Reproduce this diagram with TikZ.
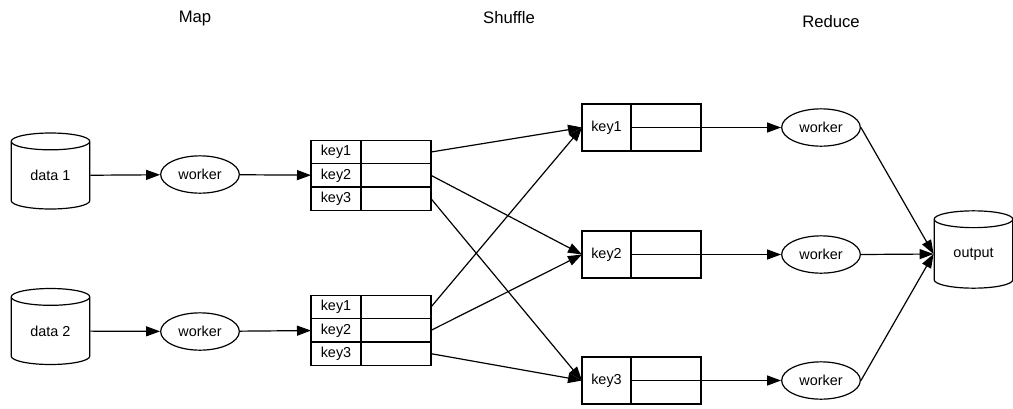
\documentclass[tikz,border=0pt]{standalone}
\usepackage{fontspec}
\setmainfont{Liberation Sans}
\usepackage{tikz}
\usetikzlibrary{arrows.meta, positioning, shapes.geometric}

\begin{document}
\begin{tikzpicture}[
		x=0.75pt, y=-0.75pt,
		font=\fontsize{10.8}{12}\selectfont,
		store/.style={cylinder, draw, shape border rotate=90, aspect=0.42, minimum width=59pt, minimum height=57pt, inner sep=0pt, line width=0.9pt},
		worker/.style={ellipse, draw, minimum width=59pt, minimum height=28pt, inner sep=0pt, line width=0.9pt},
		keycell/.style={draw, minimum width=37.5pt, minimum height=17.5pt, inner sep=0pt, outer sep=0pt, line width=0.9pt},
		valcell/.style={draw, minimum width=52.5pt, minimum height=17.5pt, inner sep=0pt, outer sep=0pt, line width=0.9pt},
		keybox/.style={draw, minimum width=36.75pt, minimum height=35.25pt, inner sep=0pt, outer sep=0pt, line width=0.9pt},
		valbox/.style={draw, minimum width=52.5pt, minimum height=35.25pt, inner sep=0pt, outer sep=0pt, line width=0.9pt},
		phase/.style={font=\fontsize{12.5}{14}\selectfont},
		->, >={Triangle[length=10.5pt, width=7.5pt]}, line width=0.9pt
		]
	\useasboundingbox (0,0) rectangle (1013,408);

	% phase titles
	\node[phase] (tmap) at (195,18) {Map};
	\node[phase] (tshuffle) at (509,18) {Shuffle};
	\node[phase] (treduce) at (831,22) {Reduce};

	% map side
	\node[store] (d1) at (50.5,175.5) {data 1};
	\node[store] (d2) at (50.5,331) {data 2};
	\node[worker] (mw1) at (200,174.5) {worker};
	\node[worker] (mw2) at (200,331.5) {worker};

	\node[keycell] (ak1) at (336,152) {key1};
	\node[keycell, below=0pt of ak1] (ak2) {key2};
	\node[keycell, below=0pt of ak2] (ak3) {key3};
	\node[valcell, right=0pt of ak1] (av1) {};
	\node[valcell, right=0pt of ak2] (av2) {};
	\node[valcell, right=0pt of ak3] (av3) {};

	\node[keycell] (bk1) at (336,307) {key1};
	\node[keycell, below=0pt of bk1] (bk2) {key2};
	\node[keycell, below=0pt of bk2] (bk3) {key3};
	\node[valcell, right=0pt of bk1] (bv1) {};
	\node[valcell, right=0pt of bk2] (bv2) {};
	\node[valcell, right=0pt of bk3] (bv3) {};

	% reduce side
	\node[keybox] (rk1) at (606.5,127.5) {key1};
	\node[valbox, right=0pt of rk1] (rv1) {};
	\node[keybox] (rk2) at (606.5,254.5) {key2};
	\node[valbox, right=0pt of rk2] (rv2) {};
	\node[keybox] (rk3) at (606.5,380.5) {key3};
	\node[valbox, right=0pt of rk3] (rv3) {};
	\draw[-] (rv1.west) -- (rv1.east);
	\draw[-] (rv2.west) -- (rv2.east);
	\draw[-] (rv3.west) -- (rv3.east);

	\node[worker] (rw1) at (821,127.5) {worker};
	\node[worker] (rw2) at (821,254.5) {worker};
	\node[worker] (rw3) at (821,380.5) {worker};
	\node[store, minimum height=58pt] (out) at (973.5,254) {output};

	% connectors
	\draw (d1) -- (mw1);
	\draw (d2) -- (mw2);
	\draw (mw1) -- (ak2);
	\draw (mw2) -- (bk2);

	\draw (av1.east) -- (rk1.west);
	\draw (av2.east) -- (rk2.west);
	\draw (av3.east) -- (rk3.west);
	\draw (bv1.east) -- (rk1.west);
	\draw (bv2.east) -- (rk2.west);
	\draw (bv3.east) -- (rk3.west);

	\draw (rv1.east) -- (rw1);
	\draw (rv2.east) -- (rw2);
	\draw (rv3.east) -- (rw3);
	\draw (rw1.east) -- (out.west);
	\draw (rw2.east) -- (out.west);
	\draw (rw3.east) -- (out.west);

\end{tikzpicture}
\end{document}
